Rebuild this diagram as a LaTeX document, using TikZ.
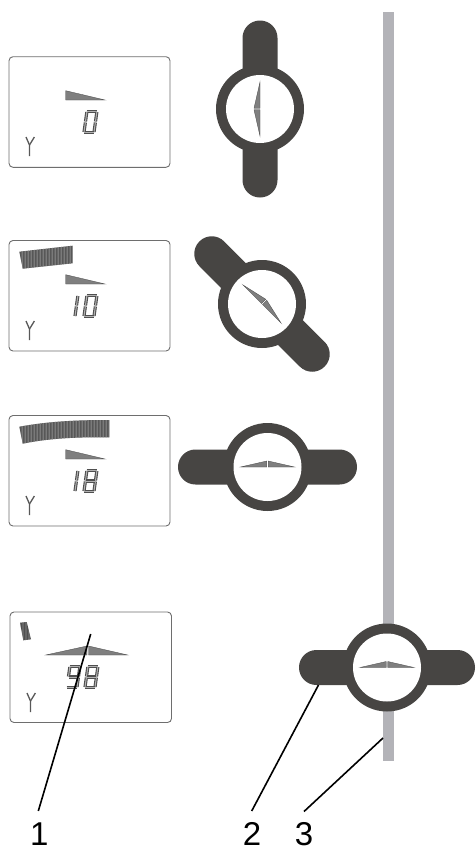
\documentclass[tikz,border=0pt]{standalone}
\usepackage{fontspec}
\setmainfont{Liberation Sans}
\definecolor{valve}{HTML}{474543}
\definecolor{barc}{HTML}{B3B3B8}
\definecolor{frame}{HTML}{6E6E6E}
\definecolor{needle}{HTML}{7F7F7F}
\definecolor{lcd}{HTML}{4F4F4F}
\tikzset{
  panel/.style={draw=frame,line width=0.9pt,rounded corners=4pt,fill=white},
  wedge/.style={fill=needle,draw=lcd,line width=0.35pt,line join=miter},
  seg/.style={draw=lcd,line width=1.1pt,double=needle!60,double distance=1pt,line cap=butt},
  leader/.style={draw=black,line width=1.6pt},
  num/.style={font=\fontsize{33}{36}\selectfont,inner xsep=0pt,inner ysep=0pt,outer sep=0pt,anchor=base},
  ysym/.style={draw=frame!80!black,line width=1.3pt}
}
% valve: x, y, rotation of handle and needle, half length
\newcommand{\valve}[4]{%
  \begin{scope}[shift={(#1,#2)}]
    \begin{scope}[rotate=#3]
      \fill[valve,rounded corners=17.4pt] (-17.5,-#4) rectangle (17.5,#4);
    \end{scope}
    \fill[valve] (0,0) circle (44);
    \fill[white] (0,0) circle (34);
    \begin{scope}[rotate=#3]
      \path[wedge] (0,-27) -- (0,-0.7) -- (-6,-0.7) -- cycle;
      \path[wedge] (0,27) -- (0,0.7) -- (-6,0.7) -- cycle;
    \end{scope}
  \end{scope}}
\newcommand{\sga}{\draw[seg] (0.6,0) -- (11.4,0);}
\newcommand{\sgb}{\draw[seg] (11,0.5) -- (11,10);}
\newcommand{\sgc}{\draw[seg] (11,11) -- (11,20.5);}
\newcommand{\sgd}{\draw[seg] (0.6,21) -- (11.4,21);}
\newcommand{\sge}{\draw[seg] (1,11) -- (1,20.5);}
\newcommand{\sgf}{\draw[seg] (1,0.5) -- (1,10);}
\newcommand{\sgg}{\draw[seg] (1.6,10.5) -- (10.4,10.5);}
\newcommand{\digitat}[3]{\begin{scope}[shift={(#1,#2)},cm={1,0,0.14,1,(2.9,0)}]#3\end{scope}}
\newcommand{\dzero}{\sga\sgb\sgc\sgd\sge\sgf}
\newcommand{\done}{\draw[seg] (3,0.5) -- (3,10); \draw[seg] (3,11) -- (3,20.5);}
\newcommand{\deight}{\sga\sgb\sgc\sgd\sge\sgf\sgg}
\newcommand{\dnine}{\sga\sgb\sgc\sgd\sgf\sgg}
\newcommand{\ysign}[2]{\begin{scope}[shift={(#1,#2)}]
  \draw[ysym] (0,0) -- (3.5,8) -- (3.5,19); \draw[ysym] (8.4,0) -- (3.5,8);\end{scope}}
\newcommand{\hatchfill}[2]{\begin{scope}
  \clip #1;
  \fill[lcd] (0,0) rectangle (475,849);
  \foreach \xx in {#2} {\draw[needle!85,line width=0.45pt] (\xx,0) -- (\xx+0.35,849);}
  \end{scope}}
\begin{document}
\begin{tikzpicture}[x=1pt,y=-1pt]
\useasboundingbox (0,0) rectangle (475,849);
% pipe
\fill[barc] (383,12) rectangle (394.3,761);
\coordinate (pipeend) at (383,738);
% valves
\valve{260}{109}{0}{88.5}
\valve{262}{304}{-135}{88.5}
\valve{267.5}{467}{-90}{89.5}
\valve{387}{667.5}{-90}{88}
\coordinate (handle) at (318.5,685);
% panels
\draw[panel] (9,56.7) rectangle (170,167.3);
\draw[panel] (9,240.5) rectangle (170,351);
\draw[panel] (9,415.5) rectangle (170,526);
\draw[panel] (10,612) rectangle (171.5,722.5);
% small wedges
\foreach \yy in {90.7,274.7,449.7}{
  \path[wedge] (65.7,\yy) -- (65.7,\yy+9.3) -- (105,\yy+9.3) -- cycle;}
% double wedge
\path[wedge] (45.7,655) -- (87,646) -- (87,655) -- cycle;
\path[wedge] (88.5,646) -- (127.7,655) -- (88.5,655) -- cycle;
% bars
\hatchfill{(19.3,251.7) -- (72.7,245.7) -- (72.7,263.3) -- (22.7,268.7) -- cycle}{21,22.5,...,73}
\hatchfill{(19.3,426.7) .. controls (50,421) and (80,420) .. (109.3,420) -- (109.3,437.3) .. controls (80,437) and (50,438) .. (22.7,443.7) -- cycle}{21,22.5,...,110}
\hatchfill{(20,622.7) -- (26.7,622) -- (31,639.3) -- (23.3,640.3) -- cycle}{20.5,22,...,32}
% digits
\digitat{83}{111.5}{\dzero}
\digitat{72}{295.5}{\done}
\digitat{83}{295.5}{\dzero}
\digitat{72}{470.5}{\done}
\digitat{83}{470.5}{\deight}
\digitat{66}{666.5}{\dnine}
\digitat{84}{666.5}{\deight}
% Y signs
\ysign{26}{137}
\ysign{26}{321}
\ysign{26}{496}
\ysign{27}{693}
% leaders and labels
\coordinate (inpanel) at (90.7,634);
\coordinate (end1) at (38.3,811);
\coordinate (end2) at (251.7,811);
\coordinate (end3) at (304,811.5);
\node[num] (n1) at (39.4,845) {1};
\node[num] (n2) at (252,845) {2};
\node[num] (n3) at (304,845) {3};
\draw[leader] (inpanel) -- (end1);
\draw[leader] (handle) -- (end2);
\draw[leader] (pipeend) -- (end3);
\end{tikzpicture}
\end{document}
